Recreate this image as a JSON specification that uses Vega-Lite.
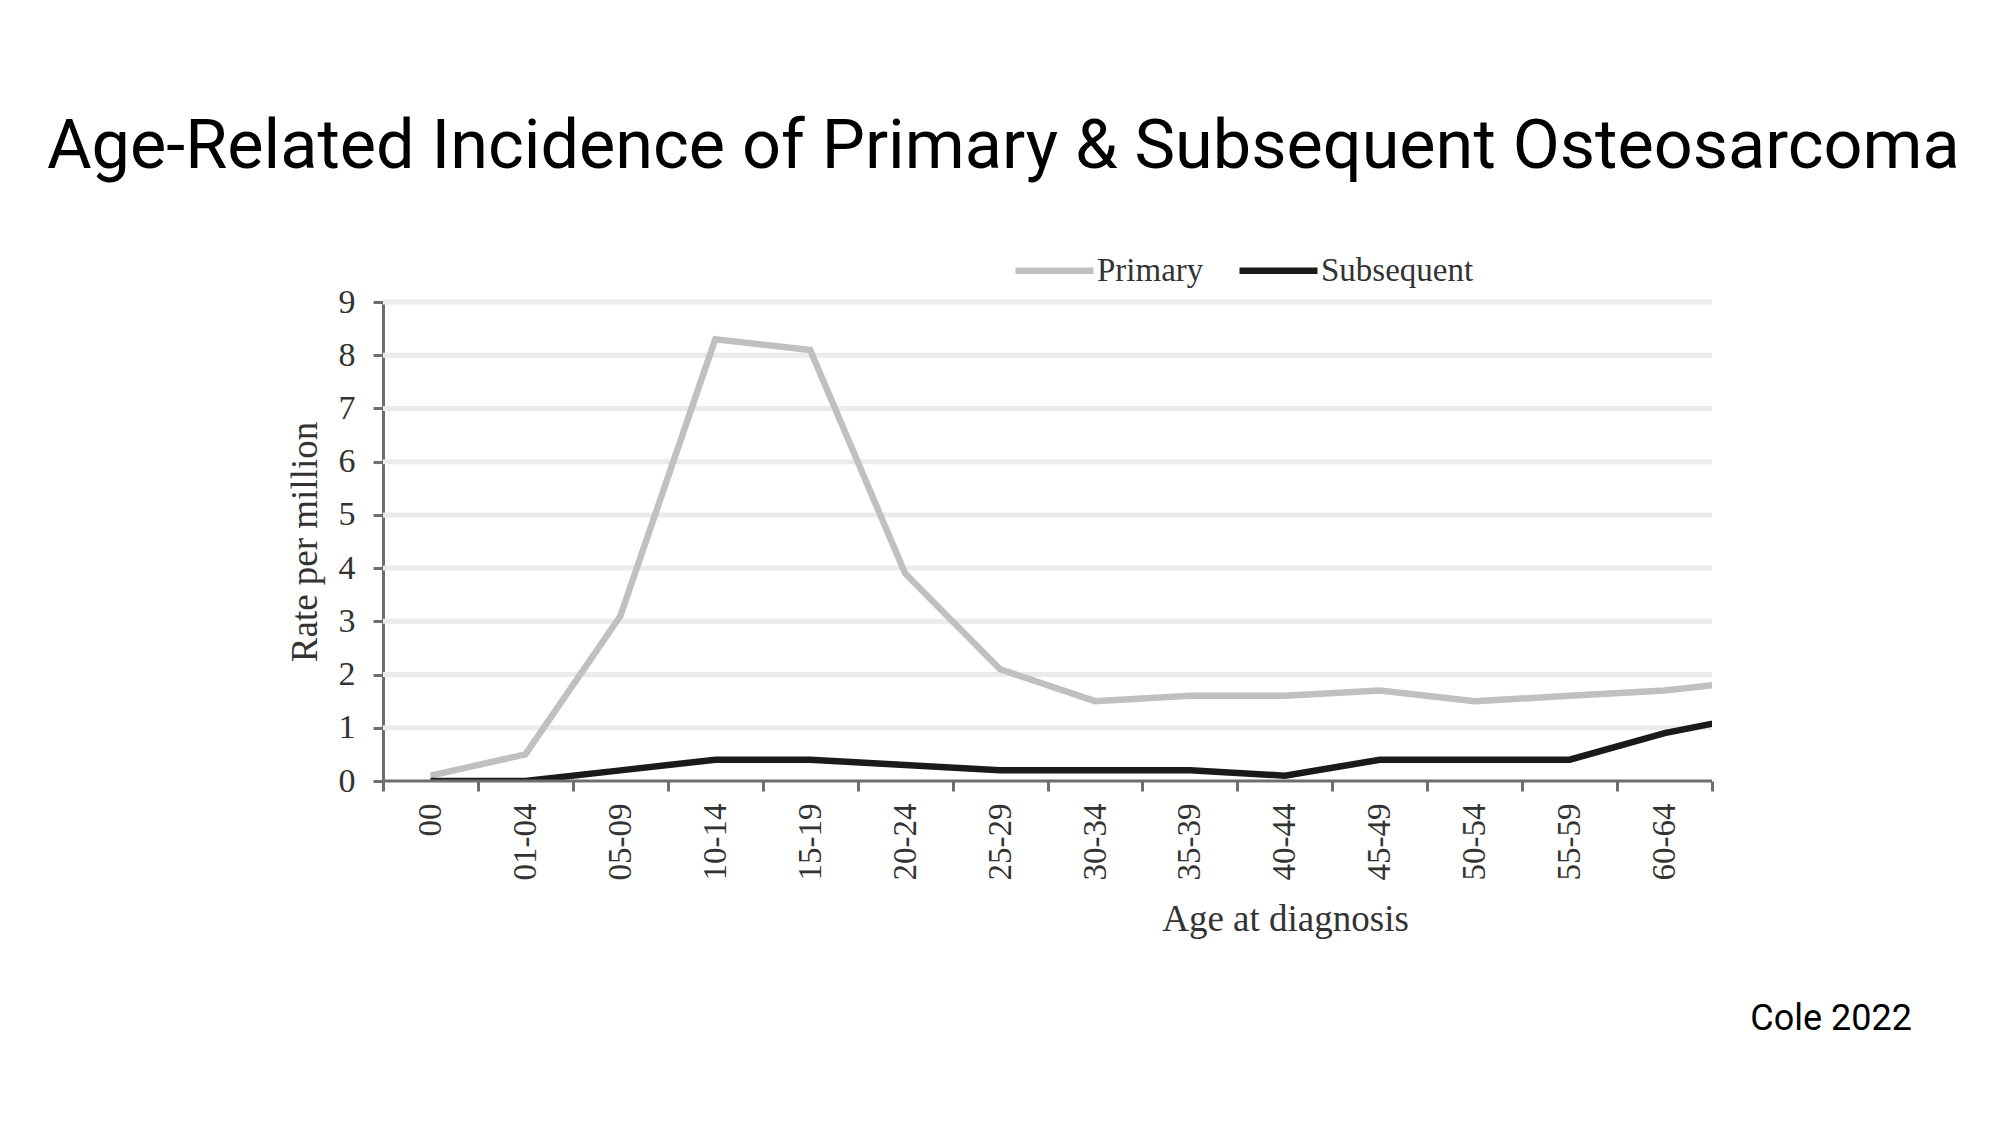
{
  "$schema": "https://vega.github.io/schema/vega-lite/v6.json",
  "autosize": "none",
  "width": 1329,
  "height": 479,
  "padding": {"left": 383, "top": 302, "right": 288, "bottom": 344},
  "background": "white",
  "title": {
    "text": "Age-Related Incidence of Primary & Subsequent Osteosarcoma",
    "frame": "group",
    "anchor": "start",
    "dx": -336,
    "offset": -8,
    "baseline": "alphabetic",
    "font": "Roboto",
    "fontSize": 68.4,
    "fontWeight": "normal",
    "color": "#000000"
  },
  "config": {
    "view": {"stroke": null},
    "axis": {
      "labelFont": "Liberation Serif",
      "titleFont": "Liberation Serif",
      "labelColor": "#333333",
      "titleColor": "#333333",
      "titleFontWeight": "normal",
      "domainColor": "#6e6e6e",
      "tickColor": "#6e6e6e"
    }
  },
  "layer": [
    {
      "data": {"values": [{"g": 1}, {"g": 2}, {"g": 3}, {"g": 4}, {"g": 5}, {"g": 6}, {"g": 7}, {"g": 8}, {"g": 9}]},
      "mark": {"type": "rule", "color": "#ebebeb", "strokeWidth": 5},
      "encoding": {"y": {"field": "g", "type": "quantitative"}}
    },
    {
      "data": {
        "values": [
          {"age": "00", "series": "Primary", "rate": 0.1},
          {"age": "01-04", "series": "Primary", "rate": 0.5},
          {"age": "05-09", "series": "Primary", "rate": 3.1},
          {"age": "10-14", "series": "Primary", "rate": 8.3},
          {"age": "15-19", "series": "Primary", "rate": 8.1},
          {"age": "20-24", "series": "Primary", "rate": 3.9},
          {"age": "25-29", "series": "Primary", "rate": 2.1},
          {"age": "30-34", "series": "Primary", "rate": 1.5},
          {"age": "35-39", "series": "Primary", "rate": 1.6},
          {"age": "40-44", "series": "Primary", "rate": 1.6},
          {"age": "45-49", "series": "Primary", "rate": 1.7},
          {"age": "50-54", "series": "Primary", "rate": 1.5},
          {"age": "55-59", "series": "Primary", "rate": 1.6},
          {"age": "60-64", "series": "Primary", "rate": 1.7},
          {"age": "65-69", "series": "Primary", "rate": 1.9},
          {"age": "00", "series": "Subsequent", "rate": 0.0},
          {"age": "01-04", "series": "Subsequent", "rate": 0.0},
          {"age": "05-09", "series": "Subsequent", "rate": 0.2},
          {"age": "10-14", "series": "Subsequent", "rate": 0.4},
          {"age": "15-19", "series": "Subsequent", "rate": 0.4},
          {"age": "20-24", "series": "Subsequent", "rate": 0.3},
          {"age": "25-29", "series": "Subsequent", "rate": 0.2},
          {"age": "30-34", "series": "Subsequent", "rate": 0.2},
          {"age": "35-39", "series": "Subsequent", "rate": 0.2},
          {"age": "40-44", "series": "Subsequent", "rate": 0.1},
          {"age": "45-49", "series": "Subsequent", "rate": 0.4},
          {"age": "50-54", "series": "Subsequent", "rate": 0.4},
          {"age": "55-59", "series": "Subsequent", "rate": 0.4},
          {"age": "60-64", "series": "Subsequent", "rate": 0.9},
          {"age": "65-69", "series": "Subsequent", "rate": 1.25}
        ]
      },
      "mark": {"type": "line", "strokeWidth": 6.5, "clip": true},
      "encoding": {
        "x": {
          "field": "age",
          "type": "ordinal",
          "sort": null,
          "scale": {"type": "band", "range": [0, 1424], "paddingInner": 0, "paddingOuter": 0},
          "axis": {
            "values": ["00", "01-04", "05-09", "10-14", "15-19", "20-24", "25-29", "30-34", "35-39", "40-44", "45-49", "50-54", "55-59", "60-64"],
            "tickBand": "extent",
            "domain": false,
            "grid": false,
            "tickSize": 10,
            "tickWidth": 3,
            "labelAngle": 270,
            "labelFontSize": 33,
            "labelPadding": 12,
            "title": "Age at diagnosis",
            "titleFontSize": 37,
            "titleX": 902,
            "titleY": 149,
            "titleAlign": "center",
            "titleBaseline": "alphabetic"
          }
        },
        "y": {
          "field": "rate",
          "type": "quantitative",
          "scale": {"domain": [0, 9], "nice": false},
          "axis": {
            "values": [0, 1, 2, 3, 4, 5, 6, 7, 8, 9],
            "grid": false,
            "title": "Rate per million",
            "titleFontSize": 37,
            "titlePadding": 14,
            "labelFontSize": 34,
            "labelPadding": 18,
            "tickSize": 10,
            "tickWidth": 3,
            "domainWidth": 3
          }
        },
        "color": {
          "field": "series",
          "type": "nominal",
          "scale": {"domain": ["Primary", "Subsequent"], "range": ["#c0c0c0", "#1a1a1a"]},
          "legend": {
            "title": null,
            "orient": "none",
            "direction": "horizontal",
            "legendX": 629,
            "legendY": -74,
            "padding": 0,
            "symbolType": "stroke",
            "symbolSize": 6084,
            "symbolStrokeWidth": 6.5,
            "labelFont": "Liberation Serif",
            "labelFontSize": 33,
            "labelColor": "#333333",
            "labelOffset": 0,
            "columnPadding": 22
          }
        }
      }
    },
    {
      "data": {"values": [{"base": 0}]},
      "mark": {"type": "rule", "color": "#6e6e6e", "strokeWidth": 3},
      "encoding": {"y": {"field": "base", "type": "quantitative"}}
    },
    {
      "data": {"values": [{"note": "Cole 2022"}]},
      "mark": {"type": "text", "font": "Roboto", "fontSize": 36, "color": "#000000", "align": "right", "baseline": "middle", "dx": 200, "dy": 238},
      "encoding": {
        "text": {"field": "note"},
        "x": {"value": "width"},
        "y": {"value": "height"}
      }
    }
  ]
}
